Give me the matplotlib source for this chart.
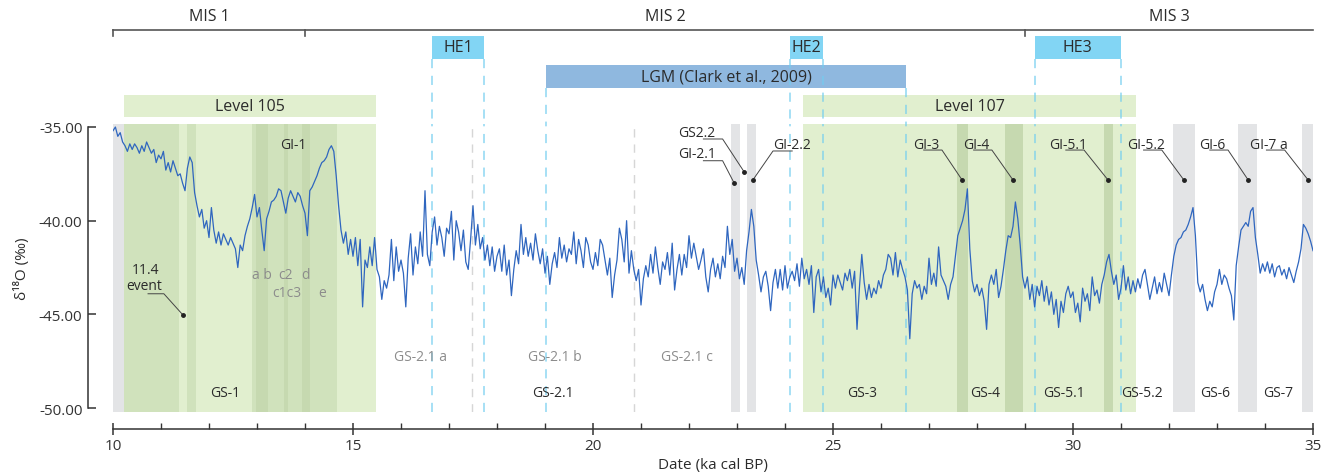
import numpy as np
import matplotlib.pyplot as plt
from matplotlib.patches import Rectangle

plt.rcParams['font.family'] = ['Open Sans', 'DejaVu Sans']
plt.rcParams['axes.unicode_minus'] = False

# d18O record (permil), every 0.05 ka from 10 to 35 ka cal BP
d18o = [
    -35.2, -35.0, -35.5, -35.3, -35.8, -36.0, -36.3, -35.9, -36.2, -35.9, -36.1, -36.4, -36.0, -36.3, -35.8, -36.1, -36.4, -36.2, -36.9, -36.5,
    -36.7, -36.3, -37.3, -36.9, -37.4, -36.8, -37.2, -37.6, -37.5, -38.0, -38.4, -37.2, -36.6, -36.9, -38.5, -39.2, -39.8, -39.4, -40.4, -40.0,
    -40.9, -39.3, -40.5, -41.2, -40.6, -41.3, -40.7, -41.0, -41.3, -40.9, -41.2, -41.5, -42.5, -41.3, -41.6, -40.8, -40.3, -39.9, -39.3, -38.6,
    -39.8, -39.3, -40.5, -41.6, -39.9, -39.5, -39.0, -38.9, -38.7, -38.3, -38.4, -39.0, -39.6, -38.8, -38.4, -38.7, -39.0, -38.5, -38.7, -39.2,
    -39.6, -40.8, -38.4, -38.2, -37.9, -37.6, -37.2, -36.9, -36.8, -36.6, -36.2, -36.0, -36.3, -37.6, -39.2, -40.5, -41.2, -40.6, -41.8, -41.0,
    -41.9, -40.9, -42.4, -41.0, -44.6, -42.1, -42.5, -41.4, -42.4, -40.9, -42.6, -43.0, -44.2, -43.2, -43.6, -42.9, -41.0, -43.2, -41.4, -42.7,
    -42.1, -42.8, -44.6, -42.0, -40.7, -42.9, -41.4, -42.3, -40.6, -41.9, -38.4, -41.8, -42.4, -40.6, -39.8, -41.3, -40.3, -40.9, -41.9, -40.4,
    -40.7, -39.5, -42.1, -40.0, -40.6, -41.6, -40.5, -42.2, -42.6, -41.0, -39.2, -41.3, -40.2, -41.5, -40.9, -42.1, -41.3, -42.4, -41.4, -42.7,
    -41.9, -41.5, -42.7, -41.3, -42.9, -42.1, -44.0, -42.6, -41.6, -42.3, -40.2, -41.8, -40.9, -41.9, -41.2, -42.1, -40.7, -41.6, -42.3, -41.5,
    -42.8, -41.9, -43.4, -42.3, -41.7, -42.5, -40.9, -42.0, -41.3, -42.2, -41.5, -41.8, -40.6, -42.3, -41.0, -41.6, -42.5, -40.9, -41.3, -42.2,
    -42.6, -41.7, -42.4, -41.0, -41.3, -42.1, -42.9, -42.0, -44.1, -42.9, -42.1, -40.4, -41.0, -42.2, -40.0, -42.8, -41.6, -42.6, -43.2, -42.6,
    -44.5, -43.1, -42.4, -43.0, -41.8, -42.8, -41.4, -42.5, -43.4, -42.2, -42.6, -41.7, -42.9, -41.2, -43.7, -42.6, -41.8, -42.9, -41.8, -42.5,
    -40.8, -42.0, -41.2, -41.9, -42.6, -42.1, -41.5, -43.0, -43.8, -42.6, -42.0, -43.0, -42.3, -43.1, -41.9, -42.5, -40.3, -41.8, -41.0, -42.7,
    -42.0, -43.1, -42.5, -43.4, -41.6, -40.6, -39.4, -40.3, -42.1, -42.9, -43.8, -43.0, -42.7, -43.5, -44.8, -43.3, -42.6, -43.6, -42.6, -43.7,
    -42.4, -43.6, -43.0, -42.7, -43.2, -42.3, -43.5, -42.0, -43.1, -42.6, -43.4, -42.4, -44.9, -43.0, -42.6, -43.8, -43.0, -44.1, -43.6, -44.5,
    -42.9, -43.6, -42.9, -43.3, -43.7, -42.8, -43.2, -42.6, -43.6, -42.7, -45.8, -43.6, -41.8, -43.3, -44.2, -43.4, -44.1, -43.6, -43.9, -43.2,
    -43.6, -42.9, -42.6, -41.8, -42.0, -42.9, -41.7, -43.0, -42.1, -42.6, -43.0, -43.7, -46.3, -43.9, -43.2, -43.6, -43.4, -44.2, -43.5, -43.9,
    -42.0, -43.4, -42.8, -43.5, -41.4, -42.9, -43.2, -43.5, -44.2, -43.4, -43.0, -41.9, -40.8, -40.4, -40.0, -39.4, -38.3, -41.5, -43.2, -43.8,
    -43.4, -44.0, -43.6, -44.3, -45.8, -43.4, -42.9, -43.4, -42.6, -44.1, -43.5, -42.6, -41.6, -40.8, -40.9, -40.3, -39.0, -39.9, -41.3, -43.0,
    -43.6, -43.0, -44.2, -43.4, -44.6, -43.5, -44.0, -43.2, -44.3, -43.5, -44.5, -43.8, -45.0, -44.2, -45.7, -44.3, -44.9, -43.9, -43.5, -44.1,
    -43.8, -44.9, -44.4, -45.4, -43.6, -44.3, -43.9, -44.8, -43.0, -44.0, -43.7, -44.4, -43.4, -42.9, -42.2, -41.8, -42.7, -43.4, -42.9, -44.2,
    -43.6, -42.4, -43.7, -43.0, -43.9, -43.2, -43.8, -43.1, -43.6, -42.9, -42.6, -43.4, -44.2, -43.6, -43.0, -43.9, -43.3, -43.8, -42.8, -43.4,
    -44.0, -42.9, -41.9, -41.3, -41.0, -40.9, -40.6, -40.5, -40.2, -39.8, -39.3, -40.8, -43.3, -43.8, -43.4, -44.2, -44.8, -44.3, -44.6, -43.8,
    -43.4, -42.6, -43.4, -42.9, -43.1, -43.6, -44.0, -45.3, -42.4, -41.4, -40.5, -40.3, -40.1, -40.3, -39.5, -39.3, -40.9, -41.8, -42.8, -42.3,
    -42.7, -42.2, -42.8, -42.3, -43.0, -42.5, -42.4, -42.9, -42.6, -43.1, -42.5, -42.9, -43.3, -42.7, -42.2, -41.5, -40.2, -40.4, -40.7, -41.1,
    -41.6,
]
ages = np.round(10 + 0.05 * np.arange(len(d18o)), 2)

mis_names = ['MIS 1', 'MIS 2', 'MIS 3']
mis_ticks = [10, 14, 29]
mis_label_x = [12.0, 21.5, 32.0]

he_names = ['HE1', 'HE2', 'HE3']
he_spans = [(16.65, 17.73), (24.1, 24.8), (29.2, 31.0)]
lgm_span = (19.02, 26.52)
level_names = ['Level 105', 'Level 107']
level_spans = [(10.23, 15.48), (24.38, 31.31)]

mid_green = [(10.23, 11.38), (11.54, 11.73), (12.9, 14.67)]
dark_green = [(12.98, 13.23), (13.56, 13.65), (13.94, 14.10),
              (27.58, 27.81), (28.58, 28.96), (30.65, 30.83)]
grey_bands = [(10.0, 10.23), (22.88, 23.06), (23.21, 23.40),
              (32.08, 32.54), (33.44, 33.83), (34.77, 35.0)]
grey_dashes = [17.48, 20.85]

gs_names = ['GS-1', 'GS-2.1', 'GS-3', 'GS-4', 'GS-5.1', 'GS-5.2', 'GS-6', 'GS-7']
gs_x = [12.33, 19.17, 25.6, 28.17, 29.81, 31.44, 32.96, 34.27]
sub_names = ['GS-2.1 a', 'GS-2.1 b', 'GS-2.1 c']
sub_x = [16.4, 19.21, 21.96]
gi_names = ['GI-3', 'GI-4', 'GI-5.1', 'GI-5.2', 'GI-6', 'GI-7 a']
gi_x = [26.94, 27.98, 29.9, 31.52, 32.9, 34.08]
gi_dot = [27.69, 28.75, 30.73, 32.31, 33.65, 34.9]

# colours
c_light = '#e1efcf'
c_mid = '#d0e2bc'
c_dark = '#c6d9b0'
c_grey = '#e3e4e6'
c_he = '#82d5f4'
c_lgm = '#8fb8df'
c_dash = '#72cdf0'
c_line = '#2f66bf'
c_txt = '#2b2b2b'
c_sub = '#8c8c8c'

W, H = 1335, 477
fig = plt.figure(figsize=(W / 100, H / 100), dpi=100)
left, width = 113 / W, 1200 / W
ax = fig.add_axes([left, (H - 413) / H, width, 288 / H])
top = fig.add_axes([left, (H - 125) / H, width, 125 / H])

ax.set_xlim(10, 35)
ax.set_ylim(-50.21, -34.84)
top.set_xlim(10, 35)
top.set_ylim(125, 0)
top.axis('off')

# ---- shaded bands in the record ----
for a, b in level_spans:
    ax.axvspan(a, b, color=c_light, lw=0, zorder=0)
for a, b in mid_green:
    ax.axvspan(a, b, color=c_mid, lw=0, zorder=0.1)
for a, b in dark_green:
    ax.axvspan(a, b, color=c_dark, lw=0, zorder=0.2)
for a, b in grey_bands:
    ax.axvspan(a, b, color=c_grey, lw=0, zorder=0.2)

dash = (0, (6, 5))
for a, b in he_spans:
    for xv in (a, b):
        ax.axvline(xv, color=c_dash, lw=1.1, ls=dash, alpha=0.8, zorder=0.5)
        top.plot([xv, xv], [60, 125], color=c_dash, lw=1.1, ls=dash, alpha=0.8)
for xv in lgm_span:
    ax.axvline(xv, color=c_dash, lw=1.1, ls=dash, alpha=0.8, zorder=0.5)
    top.plot([xv, xv], [89, 125], color=c_dash, lw=1.1, ls=dash, alpha=0.8)
for xv in grey_dashes:
    ax.axvline(xv, color='#d6d6d6', lw=1.0, ls=dash, zorder=0.5)

ax.plot(ages, d18o, color=c_line, lw=0.9, zorder=2)

# ---- header: MIS, HE, LGM, levels ----
top.plot([10, 35], [31, 31], color='#555555', lw=1.2, clip_on=False)
for xv in mis_ticks:
    top.plot([xv, xv], [31, 37], color='#555555', lw=1.2, clip_on=False)
for name, xv in zip(mis_names, mis_label_x):
    top.text(xv, 17, name, ha='center', va='center', fontsize=11.5, color=c_txt)

for name, (a, b) in zip(he_names, he_spans):
    top.add_patch(Rectangle((a, 37), b - a, 23, color=c_he, lw=0))
    top.text((a + b) / 2, 48.5, name, ha='center', va='center', fontsize=11.5, color=c_txt)

top.add_patch(Rectangle((lgm_span[0], 66), lgm_span[1] - lgm_span[0], 23, color=c_lgm, lw=0))
top.text(sum(lgm_span) / 2, 77.5, 'LGM (Clark et al., 2009)', ha='center', va='center',
         fontsize=11.5, color=c_txt)

for name, (a, b) in zip(level_names, level_spans):
    top.add_patch(Rectangle((a, 96), b - a, 22, color=c_light, lw=0))
    top.text((a + b) / 2, 107, name, ha='center', va='center', fontsize=11.5, color=c_txt)

# ---- annotations in the record ----
fs = 10
for name, xv in zip(gs_names, gs_x):
    ax.text(xv, -49.15, name, ha='center', va='center', fontsize=fs, color=c_txt)
for name, xv in zip(sub_names, sub_x):
    ax.text(xv, -47.25, name, ha='center', va='center', fontsize=fs, color=c_sub)

ax.text(13.75, -35.91, 'GI-1', ha='center', va='center', fontsize=fs, color=c_txt)
ax.text(13.1, -42.85, 'a b', ha='center', va='center', fontsize=fs, color=c_sub)
ax.text(13.6, -42.85, 'c2', ha='center', va='center', fontsize=fs, color=c_sub)
ax.text(14.02, -42.85, 'd', ha='center', va='center', fontsize=fs, color=c_sub)
ax.text(13.62, -43.81, 'c1c3', ha='center', va='center', fontsize=fs, color=c_sub)
ax.text(14.35, -43.81, 'e', ha='center', va='center', fontsize=fs, color=c_sub)

lead = dict(color='#444444', lw=0.7, zorder=3)
ax.text(10.67, -42.62, '11.4', ha='center', va='center', fontsize=fs, color=c_txt)
ax.text(10.65, -43.48, 'event', ha='center', va='center', fontsize=fs, color=c_txt)
ax.plot([10.73, 11.06, 11.46], [-43.9, -43.9, -45.04], **lead)
ax.plot([11.46], [-45.04], 'o', color='#222222', ms=2.5, zorder=3)

ax.text(22.17, -35.32, 'GS2.2', ha='center', va='center', fontsize=fs, color=c_txt)
ax.plot([22.3, 22.7, 23.15], [-35.64, -35.64, -37.40], **lead)
ax.plot([23.15], [-37.40], 'o', color='#222222', ms=2.5, zorder=3)
ax.text(22.17, -36.44, 'GI-2.1', ha='center', va='center', fontsize=fs, color=c_txt)
ax.plot([22.3, 22.7, 22.94], [-36.8, -36.8, -37.99], **lead)
ax.plot([22.94], [-37.99], 'o', color='#222222', ms=2.5, zorder=3)
ax.text(24.15, -35.91, 'GI-2.2', ha='center', va='center', fontsize=fs, color=c_txt)
ax.plot([24.15, 23.75, 23.33], [-36.28, -36.28, -37.83], **lead)
ax.plot([23.33], [-37.83], 'o', color='#222222', ms=2.5, zorder=3)

for name, xv, xd in zip(gi_names, gi_x, gi_dot):
    ax.text(xv, -35.91, name, ha='center', va='center', fontsize=fs, color=c_txt)
    ax.plot([xv - 0.05, xv + 0.33, xd], [-36.23, -36.23, -37.83], **lead)
    ax.plot([xd], [-37.83], 'o', color='#222222', ms=2.5, zorder=3)

# ---- axes styling ----
for s in ('top', 'right'):
    ax.spines[s].set_visible(False)
ax.spines['left'].set_position(('outward', 18))
ax.spines['left'].set_bounds(-50, -35)
ax.spines['bottom'].set_position(('outward', 12))
ax.spines['bottom'].set_bounds(10, 35)
for s in ('left', 'bottom'):
    ax.spines[s].set_color('#333333')
    ax.spines[s].set_linewidth(1.1)

ax.set_yticks([-35, -40, -45, -50])
ax.set_yticklabels([f'{v:.2f}' for v in (-35, -40, -45, -50)])
ax.set_xticks([10, 15, 20, 25, 30, 35])
ax.set_xticks(np.arange(10, 36, 1), minor=True)
ax.tick_params(axis='y', direction='in', length=6, width=1.1, colors='#333333',
               labelsize=11, pad=4)
ax.tick_params(axis='x', which='major', direction='inout', length=9, width=1.1,
               colors='#333333', labelsize=11, pad=2)
ax.tick_params(axis='x', which='minor', direction='in', length=4, width=1.0, colors='#333333')
ax.set_xlabel('Date (ka cal BP)', fontsize=11, color=c_txt, labelpad=3)
ax.set_ylabel('δ¹⁸O (‰)', fontsize=11, color=c_txt, labelpad=6)

fig.savefig('out.png', dpi=100)
